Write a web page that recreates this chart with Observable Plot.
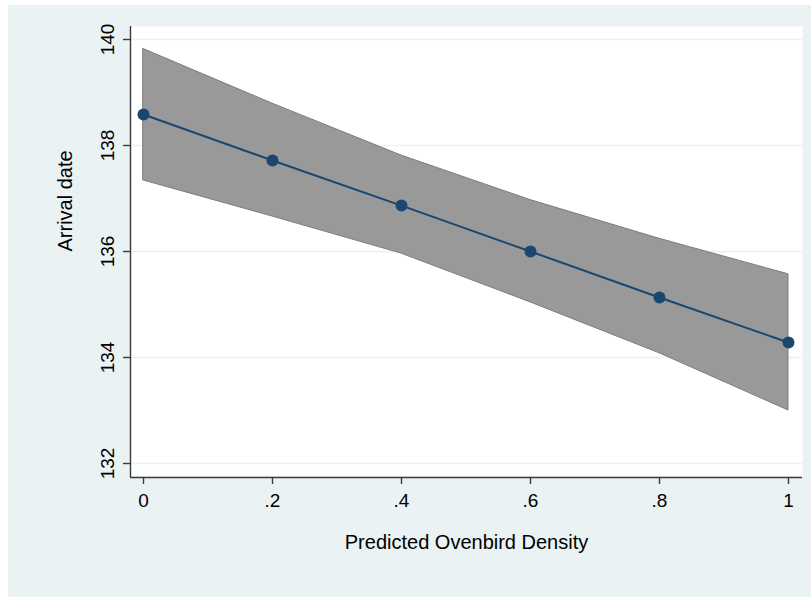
<!DOCTYPE html>
<html>
<head>
<meta charset="utf-8">
<script src="https://cdn.jsdelivr.net/npm/d3@7"></script>
<script src="https://cdn.jsdelivr.net/npm/@observablehq/plot@0.6"></script>
<style>
  html, body { margin: 0; padding: 0; background: #ffffff; }
  #wrap { position: relative; width: 811px; height: 597px; }
  #bg { position: absolute; left: 8px; top: 5px; width: 803px; height: 592px; background: #eaf2f3; }
  #chart { position: absolute; left: 0; top: 0; }
  #chart svg { background: transparent; }
</style>
</head>
<body>
<div id="wrap"><div id="bg"></div><div id="chart"></div></div>
<script>
const density = [0, 0.2, 0.4, 0.6, 0.8, 1];
const arrival = [138.585, 137.717, 136.866, 136.0, 135.132, 134.283];
const upperCI = [139.82, 138.79, 137.81, 136.97, 136.24, 135.57];
const lowerCI = [137.34, 136.66, 135.96, 135.04, 134.08, 133.0];
const xTicks = [0, 0.2, 0.4, 0.6, 0.8, 1];
const xTickLabels = ["0", ".2", ".4", ".6", ".8", "1"];
const yTicks = [132, 134, 136, 138, 140];
const yTickLabels = ["132", "134", "136", "138", "140"];

const data = density.map((d, i) => ({x: d, y: arrival[i], lo: lowerCI[i], hi: upperCI[i]}));

const xDomain = [-0.02016, 1.02171];
const yDomain = [131.7547, 140.2453];

const chart = Plot.plot({
  width: 811,
  height: 597,
  marginLeft: 130,
  marginRight: 9,
  marginTop: 26,
  marginBottom: 121,
  style: {fontFamily: "Liberation Sans, Arial, sans-serif", background: "transparent", color: "#000"},
  x: {domain: xDomain},
  y: {domain: yDomain},
  marks: [
    Plot.frame({fill: "white", stroke: null}),
    Plot.gridY(yTicks, {stroke: "#eaf2f3", strokeOpacity: 1, strokeWidth: 1.6}),
    Plot.areaY(data, {x: "x", y1: "lo", y2: "hi", fill: "#999999", stroke: "#7d7d7d", strokeWidth: 1}),
    Plot.line(data, {x: "x", y: "y", stroke: "#1a476f", strokeWidth: 2}),
    Plot.dot(data, {x: "x", y: "y", r: 6, fill: "#1a476f", stroke: "none"}),
    Plot.ruleX([xDomain[0]], {stroke: "#3a3a3a", strokeWidth: 1.4, insetBottom: -1}),
    Plot.ruleY([yDomain[0]], {stroke: "#3a3a3a", strokeWidth: 1.4, dy: 1}),
    Plot.axisX(xTicks, {
      tickFormat: (d, i) => xTickLabels[i],
      tickSize: 7, tickPadding: 9, fontSize: 19, stroke: "#3a3a3a", strokeWidth: 1.4,
      label: null, dy: 1
    }),
    Plot.axisY(yTicks, {
      tickSize: 7, text: null, stroke: "#3a3a3a", strokeWidth: 1.4, label: null
    }),
    Plot.text(yTicks, {
      y: d => d, text: (d, i) => yTickLabels[i], frameAnchor: "left", dx: -17,
      rotate: -90, textAnchor: "middle", lineAnchor: "bottom", fontSize: 19
    }),
    Plot.text(["Predicted Ovenbird Density"], {frameAnchor: "bottom", dy: 72, fontSize: 20, lineAnchor: "bottom", text: d => d}),
    Plot.text(["Arrival date"], {frameAnchor: "left", dx: -65, rotate: -90, fontSize: 20, text: d => d})
  ]
});
document.getElementById("chart").appendChild(chart);
</script>
</body>
</html>
